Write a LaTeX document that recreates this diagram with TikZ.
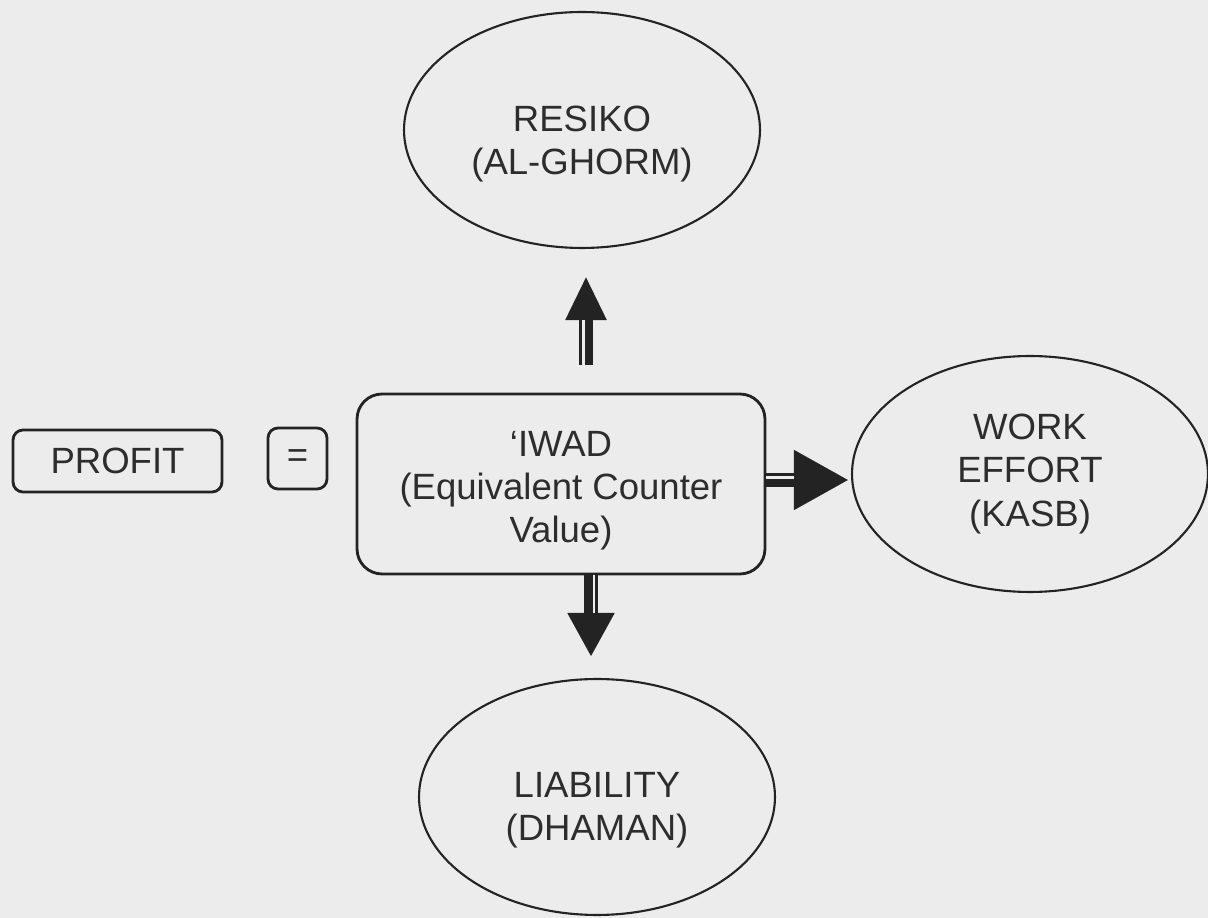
\documentclass[tikz,border=0pt]{standalone}
\usepackage{fontspec}
\setmainfont{Liberation Sans}
\usetikzlibrary{arrows.meta,shapes.geometric,calc}
\definecolor{paper}{RGB}{236,236,236}
\definecolor{ink}{RGB}{35,35,35}
\definecolor{txt}{RGB}{45,45,45}
\begin{document}
\begin{tikzpicture}[x=0.02cm,y=-0.02cm,
  every node/.style={text=txt,font=\fontsize{20.8}{24.5}\selectfont,align=center},
  rbox/.style={draw=ink,line width=1.6pt,rounded corners=0.2cm,inner sep=0pt},
  oval/.style={ellipse,draw=ink,line width=1.2pt,inner sep=0pt,minimum width=7.12cm,minimum height=4.72cm},
  fatshaft/.style={draw=ink,line width=0.28cm,line cap=butt},
  gapline/.style={draw=paper,line width=0.05cm,line cap=butt}
]
\fill[paper] (0,0) rectangle (1208,918);
\useasboundingbox (0,0) rectangle (1208,918);

\node[rbox,minimum width=4.18cm,minimum height=1.24cm] (profit) at (117.5,461) {PROFIT};
\node[rbox,minimum width=1.18cm,minimum height=1.22cm] (eq) at (297.5,458.5) {=};
\node[rbox,rounded corners=0.5cm,minimum width=8.16cm,minimum height=3.6cm] (iwad) at (561,484) {\rule{0pt}{22pt}`IWAD\\(Equivalent Counter\\Value)};

\node[oval] (resiko) at (582,130) {\rule{0pt}{30pt}RESIKO\\(AL-GHORM)};
\node[oval] (work) at (1030,474) {WORK\\EFFORT\\(KASB)};
\node[oval] (liab) at (597,797) {\rule{0pt}{29pt}LIABILITY\\(DHAMAN)};

\coordinate (upx) at (586,0);
\coordinate (dnx) at (591,0);
\coordinate (rty) at (0,480);

% up arrow
\draw[fatshaft,-{Triangle[length=0.88cm,width=0.76cm]},shorten <=0.56cm,shorten >=0.54cm]
  (iwad.north -| upx) -- (resiko.south -| upx);
\draw[gapline,shorten <=0.56cm,shorten >=1.42cm,transform canvas={xshift=-0.05cm}]
  (iwad.north -| upx) -- (resiko.south -| upx);

% down arrow
\draw[fatshaft,-{Triangle[length=0.88cm,width=0.88cm]},shorten >=0.42cm]
  (iwad.south -| dnx) -- (liab.north -| dnx);
\draw[gapline,shorten >=1.30cm,transform canvas={xshift=0.06cm}]
  (iwad.south -| dnx) -- (liab.north -| dnx);

% right arrow
\draw[fatshaft,-{Triangle[length=1.1cm,width=1.12cm]},shorten >=0.04cm]
  (iwad.east |- rty) -- (work.west |- rty);
\draw[gapline,shorten >=1.14cm,transform canvas={yshift=0.05cm}]
  (iwad.east |- rty) -- (work.west |- rty);
\end{tikzpicture}
\end{document}
